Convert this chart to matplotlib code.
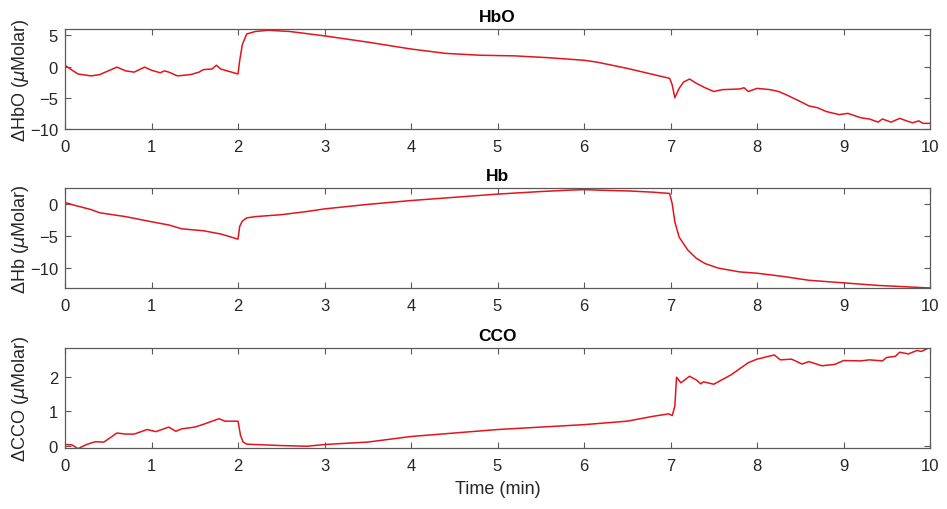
import matplotlib
matplotlib.use("Agg")
import matplotlib.pyplot as plt

plt.rcParams['font.family'] = ['Liberation Sans', 'DejaVu Sans']
plt.rcParams['mathtext.fontset'] = 'dejavusans'

# Oxygenated haemoglobin change (uM) vs time (min)
t_hbo = [0, 0.05, 0.15, 0.3, 0.4, 0.5, 0.6, 0.7, 0.8, 0.92, 1.0, 1.1, 1.15, 1.2, 1.3,
         1.45, 1.55, 1.6, 1.7, 1.75, 1.8, 1.9, 2.0, 2.02, 2.05, 2.1, 2.2, 2.35, 2.6,
         3.0, 3.5, 4.0, 4.4, 4.8, 5.2, 5.6, 6.0, 6.15, 6.5, 6.99, 7.02, 7.05, 7.1,
         7.15, 7.22, 7.3, 7.4, 7.5, 7.6, 7.8, 7.85, 7.9, 8.0, 8.15, 8.25, 8.35, 8.5,
         8.6, 8.7, 8.8, 8.95, 9.05, 9.2, 9.3, 9.4, 9.45, 9.55, 9.65, 9.75, 9.8, 9.87,
         9.92, 10]
hbo = [0.2, -0.3, -1.2, -1.5, -1.3, -0.7, -0.1, -0.7, -0.9, -0.1, -0.6, -1.0, -0.7,
       -0.9, -1.5, -1.3, -0.9, -0.5, -0.4, 0.2, -0.4, -0.8, -1.2, 1.0, 3.5, 5.2, 5.6,
       5.8, 5.6, 4.9, 3.9, 2.8, 2.1, 1.8, 1.7, 1.4, 1.0, 0.7, -0.3, -1.9, -3.0, -5.0,
       -3.5, -2.5, -2.0, -2.7, -3.4, -4.0, -3.7, -3.6, -3.4, -4.0, -3.5, -3.7, -4.0,
       -4.6, -5.6, -6.3, -6.6, -7.2, -7.7, -7.5, -8.2, -8.4, -8.9, -8.4, -8.9, -8.3,
       -8.8, -9.0, -8.7, -9.1, -9.1]

# Deoxygenated haemoglobin change (uM)
t_hb = [0, 0.1, 0.3, 0.4, 0.7, 1.0, 1.2, 1.35, 1.6, 1.8, 2.0, 2.02, 2.05, 2.1, 2.2,
        2.5, 2.8, 3.0, 3.5, 4.0, 4.5, 5.0, 5.5, 5.8, 6.0, 6.2, 6.5, 6.8, 6.99, 7.02,
        7.05, 7.1, 7.2, 7.3, 7.4, 7.55, 7.8, 8.0, 8.3, 8.6, 9.0, 9.4, 9.7, 10]
hb = [0.2, -0.2, -0.9, -1.4, -2.0, -2.8, -3.3, -3.9, -4.2, -4.7, -5.5, -3.5, -2.7,
      -2.2, -2.0, -1.7, -1.2, -0.8, -0.1, 0.5, 1.0, 1.5, 1.9, 2.1, 2.2, 2.1, 2.0, 1.8,
      1.6, 0.0, -2.8, -5.2, -7.2, -8.5, -9.3, -10.0, -10.6, -10.8, -11.3, -11.9,
      -12.3, -12.7, -12.9, -13.1]

# Cytochrome c oxidase change (uM)
t_cco = [0, 0.08, 0.15, 0.25, 0.35, 0.45, 0.6, 0.7, 0.8, 0.95, 1.05, 1.2, 1.28, 1.35,
         1.5, 1.6, 1.78, 1.85, 2.0, 2.03, 2.06, 2.1, 2.3, 2.5, 2.8, 3.0, 3.5, 4.0,
         4.5, 5.0, 5.5, 6.0, 6.5, 6.8, 6.98, 7.02, 7.05, 7.07, 7.12, 7.22, 7.3, 7.35,
         7.38, 7.5, 7.7, 7.9, 8.0, 8.1, 8.2, 8.27, 8.4, 8.52, 8.6, 8.75, 8.9, 9.0,
         9.2, 9.3, 9.45, 9.5, 9.6, 9.65, 9.75, 9.85, 9.9, 10]
cco = [0.05, 0.04, -0.07, 0.05, 0.13, 0.12, 0.38, 0.35, 0.35, 0.48, 0.42, 0.55, 0.43,
       0.5, 0.55, 0.63, 0.79, 0.72, 0.72, 0.3, 0.12, 0.06, 0.04, 0.02, 0.0, 0.05,
       0.12, 0.28, 0.38, 0.48, 0.55, 0.62, 0.72, 0.86, 0.93, 0.88, 1.15, 1.98, 1.82,
       2.01, 1.9, 1.79, 1.85, 1.78, 2.05, 2.4, 2.5, 2.56, 2.62, 2.48, 2.5, 2.36, 2.43,
       2.31, 2.35, 2.46, 2.45, 2.48, 2.45, 2.55, 2.58, 2.7, 2.65, 2.75, 2.72, 2.84]

x_ticks = list(range(0, 11))

panels = [
    ("HbO", t_hbo, hbo, (-10, 6), [-10, -5, 0, 5], r"ΔHbO ($\mu$Molar)"),
    ("Hb", t_hb, hb, (-13.1, 2.45), [-10, -5, 0], r"ΔHb ($\mu$Molar)"),
    ("CCO", t_cco, cco, (-0.05, 2.82), [0, 1, 2], r"ΔCCO ($\mu$Molar)"),
]

fig = plt.figure(figsize=(9.47, 5.10), dpi=100)
left, width = 65 / 947, 865 / 947
tops = [30, 189, 349]
height_px = 100

text_col = '#262626'
axis_col = '#5a5a5a'
line_col = '#e3141b'

for (title, t, v, ylim, yt, ylab), top in zip(panels, tops):
    bottom = 1 - (top + height_px) / 510
    ax = fig.add_axes([left, bottom, width, height_px / 510])
    ax.plot(t, v, color=line_col, lw=1.1)
    ax.set_xlim(0, 10)
    ax.set_ylim(*ylim)
    ax.set_xticks(x_ticks)
    ax.set_yticks(yt)
    ax.tick_params(direction='in', length=4, width=0.8, top=True, right=True,
                   labelsize=12, colors=axis_col, labelcolor=text_col)
    ax.tick_params(axis='x', pad=7)
    ax.tick_params(axis='y', pad=5)
    for s in ax.spines.values():
        s.set_color(axis_col)
        s.set_linewidth(0.9)
    ax.set_title(title, fontsize=12.5, fontweight='bold', color='black', pad=6)
    ax.set_ylabel(ylab, fontsize=13, color=text_col)
    ax.yaxis.set_label_coords(-0.039, 0.5)
    if title == "CCO":
        ax.set_xlabel("Time (min)", fontsize=13, color=text_col, labelpad=5)

fig.savefig("out.png", dpi=100)
